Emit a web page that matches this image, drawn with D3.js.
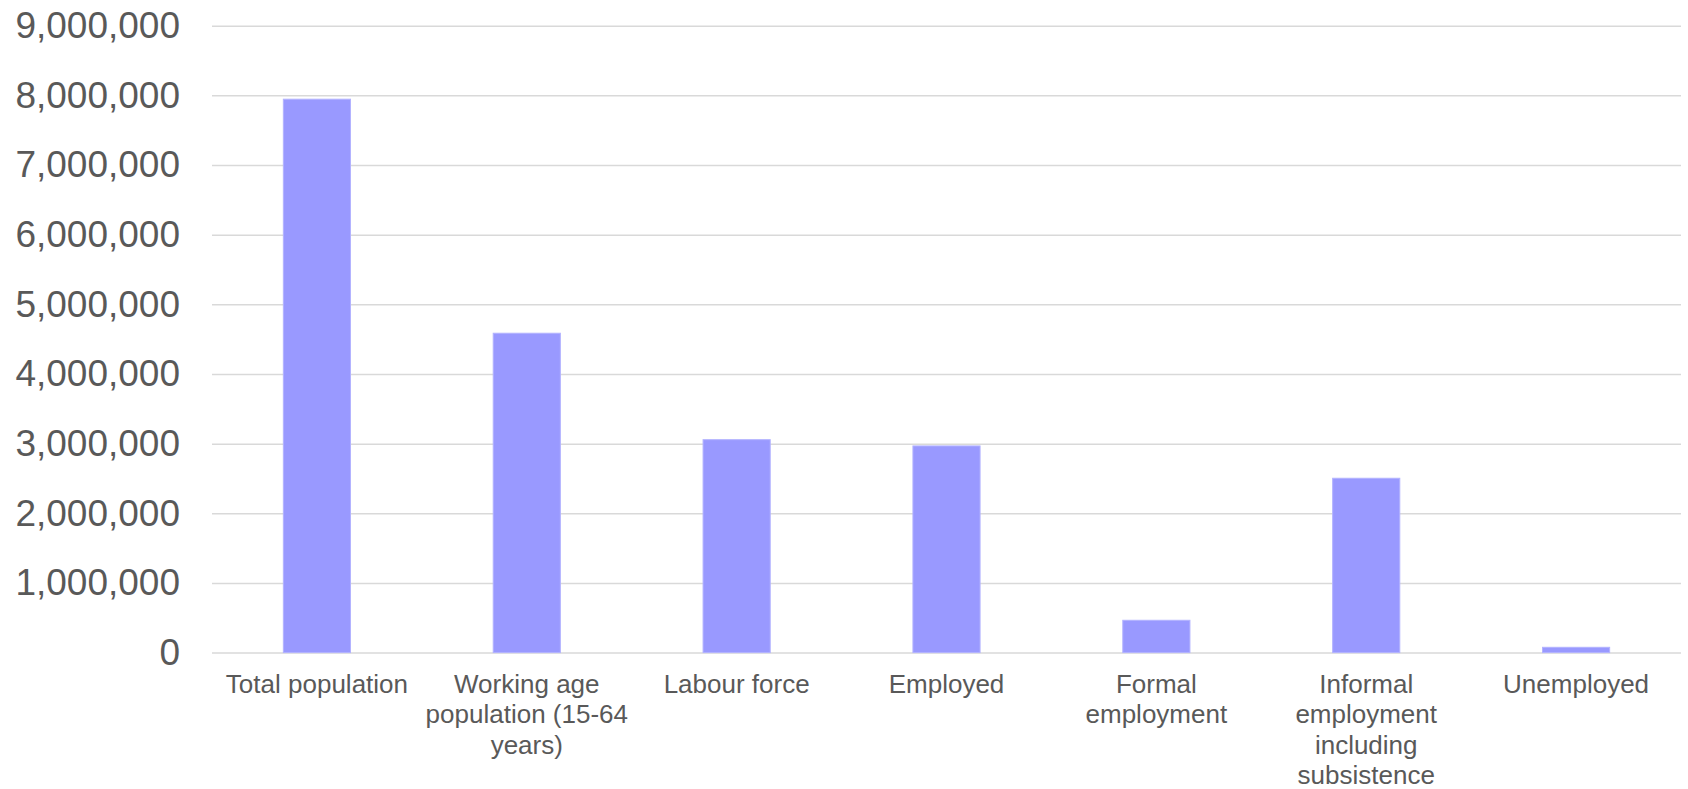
<!DOCTYPE html>
<html>
<head>
<meta charset="utf-8">
<script src="https://cdn.jsdelivr.net/npm/d3@7"></script>
<style>
    body { margin: 0; background: #fff; }
    svg { display: block; }
    .grid line { stroke: #d9d9d9; stroke-width: 1.5; }
    .grid path { display: none; }
    .grid text { fill: #595959; font-family: "Liberation Sans", Arial, sans-serif; font-size: 37px; }
    .xlabel { fill: #595959; font-family: "Liberation Sans", Arial, sans-serif; font-size: 26px; }
    .bar { fill: #9999ff; stroke: #b3b3ff; stroke-width: 1; }
</style>
</head>
<body>
<div id="chart"></div>
<script>
// data
let categories = ['Total population', 'Working age population', 'Labour force', 'Employed',
    'Formal employment', 'Informal employment', 'Unemployed']
let values = [7945000, 4585000, 3057000, 2967000, 464000, 2503000, 76000]
let labelLines = [
    ['Total population'],
    ['Working age', 'population (15-64', 'years)'],
    ['Labour force'],
    ['Employed'],
    ['Formal', 'employment'],
    ['Informal', 'employment', 'including', 'subsistence'],
    ['Unemployed']
]
let yTicks = [0, 1000000, 2000000, 3000000, 4000000, 5000000, 6000000, 7000000, 8000000, 9000000]

let W = 1688
let H = 789
let margin = {
    top: 25.7,
    right: 7,
    bottom: 136.4,
    left: 212
}
let width = W - margin.left - margin.right
let height = H - margin.top - margin.bottom

let svg = d3.select('#chart').append('svg')
    .attr('width', W)
    .attr('height', H)
    .append('g')
    .attr('transform', 'translate(' + margin.left + ',' + margin.top + ')')

let x = d3.scaleBand()
    .domain(categories)
    .range([0, width])
    .paddingInner(0.68)
    .paddingOuter(0.34)

let y = d3.scaleLinear()
    .domain([0, 9000000])
    .range([height, 0])

// gridlines + y labels
svg.append('g')
    .attr('class', 'grid')
    .call(d3.axisLeft(y).tickValues(yTicks).tickSize(-width).tickPadding(32).tickFormat(d3.format(',')))

svg.selectAll('.bar')
    .data(values)
    .enter().append('rect')
    .attr('class', 'bar')
    .attr('x', (d, i) => x(categories[i]))
    .attr('width', x.bandwidth())
    .attr('y', d => y(d))
    .attr('height', d => y(0) - y(d))

// category labels, wrapped like the original
let lbl = svg.selectAll('.xlabel')
    .data(labelLines)
    .enter().append('text')
    .attr('class', 'xlabel')
    .attr('text-anchor', 'middle')
    .attr('transform', (d, i) => 'translate(' + (x(categories[i]) + x.bandwidth() / 2) + ',' + (height + 40) + ')')

lbl.selectAll('tspan')
    .data(d => d)
    .enter().append('tspan')
    .attr('x', 0)
    .attr('y', (d, i) => i * 30.5)
    .text(d => d)
</script>
</body>
</html>
